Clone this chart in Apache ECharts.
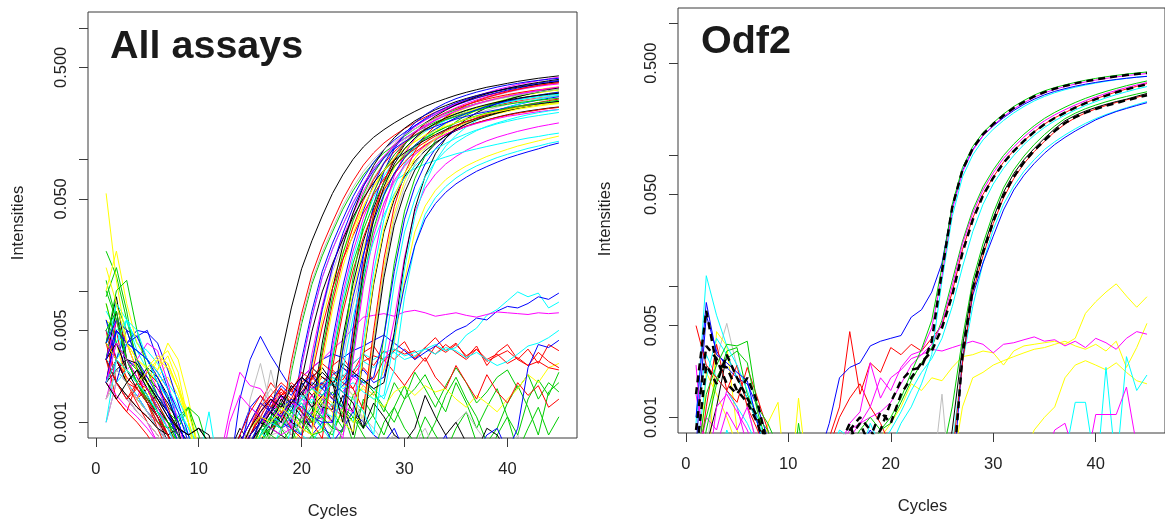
<!DOCTYPE html>
<html>
<head>
<meta charset="utf-8">
<script src="https://cdn.jsdelivr.net/npm/echarts@6.0.0/dist/echarts.min.js"></script>
<style>
  html, body { margin: 0; padding: 0; background: #ffffff; }
  #chart { width: 1165px; height: 519px; }
</style>
</head>
<body>
<div id="chart"></div>
<script>
// Amplification curves, intensities in thousandths (milli-units) per PCR cycle.
const cycles = [1,2,3,4,5,6,7,8,9,10,11,12,13,14,15,16,17,18,19,20,21,22,23,24,25,26,27,28,29,30,31,32,33,34,35,36,37,38,39,40,41,42,43,44,45];
const xTicks = [0, 10, 20, 30, 40];
const yTicks = [0.001, 0.005, 0.01, 0.05, 0.1, 0.5, 1];
const yLabels = [0.001, 0.005, 0.05, 0.5];
const MILLI = 0.001;

// R default palette
const rBlack = '#000000', rRed = '#FF0000', rGreen = '#00CD00', rBlue = '#0000FF',
      rCyan = '#00FFFF', rMagenta = '#FF00FF', rYellow = '#FFFF00', rGray = '#BEBEBE';

// ---- All assays: amplifying wells ----
const allA01 = [4,9,3,2.2,1.6,1.1,0.7,0.4,0.3,0.2, 0.2,0.3,0.3,0.4,0.5,0.7, 1.05,3.2,7.4,14.7,24,37,55,76,100,124,147,168,189,210,231,252,271,289,307,323,338,353,365,378,391,402,413,422,431];
const allA02 = [2,6,4,2.5,1.4,0.9,0.6,0.4,0.2,0.2, 0.2,0.2,0.3,0.5,0.6,0.8,0.9, 1,2.9,6.7,13.3,21.9,33.3,49.4,68.4,90.3,112,133,152,171,190,209,228,245,261,277,293,306,319,331,342,353,364,373,382];
const allA03 = [20,13,6,3,2,1.2,0.8,0.5,0.3,0.2, 0.2,0.3,0.4,0.6,0.9,1.1,0.7, 0.8,2.4,5.6,11.2,18.4,28,41.6,57.6,76,94.4,112,128,144,160,176,192,206,220,234,246,258,269,278,288,298,306,314,322];
const allA04 = [6,3,5,4.5,5,3,1.8,1,0.6,0.3, 0.3,0.4,0.5,0.8,1.3,1.6,1.2,0.9, 1,3,7,14,23,35,52,72,95,118,140,160,180,200,220,240,258,275,292,308,322,336,348,360,372,383,393];
const allA05 = [3,8,6,3.5,2.5,2,1.5,1.1,0.8,0.5, 1.2,0.4,0.3,0.5,0.7,0.9,0.6,0.5, 0.9,2.7,6.3,12.6,20.7,31.5,46.8,64.8,85.5,106,126,144,162,180,198,216,232,248,263,277,290,302,313,324,335,345,354];
const allA06 = [5,3,2,1.5,2.5,1.8,1.2,0.8,0.5,0.3, 0.2,0.5,1.2,2.4,1.9,1.8,1.4,1.6,0.9, 1.1,3.3,7.7,15.4,25.3,38.5,57.2,79.2,104.5,130,154,176,198,220,242,264,284,303,321,339,354,370,383,396,409,421];
const allA07 = [55,12,4,2.5,2,3,3.5,2.4,1,0.4, 0.3,0.3,0.4,0.5,0.6,0.8,0.7,0.6,0.7, 0.85,2.6,6,11.9,19.6,29.8,44.2,61.2,80.8,100,119,136,153,170,187,204,219,234,248,262,274,286,296,306,316,326];
const allA08 = [2,4,3,2,1.5,1,0.7,0.5,0.3,0.2, 0.2,0.2,0.3,0.4,1.5,2.8,1.3,0.9,0.8, 1,3,7,14,23,35,52,72,95,118,140,160,180,200,220,240,258,275,292,308,322,336,348,360,372,383];
const allA09 = [3,7,2.5,2,1.4,1.6,1.2,0.9,0.8,0.9, 0.7,0.3,0.3,0.5,0.7,0.9,1.2,1.4,1,0.9, 1.15,4,10.4,21.9,39.1,62.1,89.7,118,146,172,196,217,238,256,274,290,305,319,331,343,353,363,373,381,389];
const allA10 = [4,2,1.5,2,1.8,1.2,0.8,0.5,0.3,0.2, 0.2,0.2,0.3,0.6,0.9,1.4,2,1.6,1.8,1.2, 0.9,3.2,8.1,17.1,30.6,48.6,70.2,92.7,114,135,153,170,186,201,214,227,239,249,259,268,276,284,292,298,304];
const allA11 = [9,15,7,2.6,1.8,1.3,1,0.7,0.4,0.3, 0.2,0.3,0.3,0.4,0.5,0.8,0.9,1.1,0.8,1.0, 1,3.5,9,19,34,54,78,103,127,150,170,189,207,223,238,252,265,277,288,298,307,316,324,331,338];
const allA12 = [2,5,4,5,4.8,4,2.5,1.4,0.8,0.4, 0.3,0.2,0.3,0.6,1.3,1.1,0.9,1.3,1.5,1.2,0.9, 1.2,4.2,10.8,22.8,40.8,64.8,93.6,124,152,180,204,227,248,268,286,302,318,332,346,358,368,379,389,397];
const allA13 = [7,5,6,4,3.5,2.8,2,1.5,1,0.6, 0.4,0.3,0.3,0.4,0.6,0.7,0.6,0.9,1.1,0.8,0.7, 0.95,3.3,8.6,18,32.3,51.3,74.1,97.9,121,143,162,180,197,212,226,239,252,263,274,283,292,300,308,314];
const allA14 = [1.5,3,2.5,3,4,3.5,2,1,0.5,0.3, 0.2,0.2,0.3,0.5,0.9,1.2,1.5,1.1,0.8,1.0,1.2, 1.05,3.7,9.5,20,35.7,56.7,81.9,108,133,158,179,198,217,234,250,265,278,291,302,313,322,332,340,348];
const allA15 = [10,20,8,4,3,2.5,4,3,1.5,0.6, 0.4,0.3,0.3,0.5,0.7,0.8,1.0,1.3,1.2,0.9,0.8,0.9, 1.1,3.9,9.9,20.9,37.4,59.4,85.8,113,140,165,187,208,228,245,262,277,292,305,317,328,338,348,356];
const allA16 = [1,2,1.5,1.2,1,0.8,0.6,0.4,0.3,0.2, 0.2,0.2,0.3,0.4,0.6,1.0,2.5,1.2,0.8,1.0,1.4,1.1, 0.85,3,7.7,16.2,28.9,45.9,66.3,87.6,108,128,145,161,176,190,202,214,225,235,245,253,261,269,275];
const allA17 = [2,3,2.5,2,2.6,2.2,1.6,0.9,0.4,0.2, 0.2,0.3,0.5,0.8,0.6,1.1,0.9,1.5,1.2,2.0,1.6,1.3, 1.25,4.4,11.3,23.8,42.5,67.5,97.5,129,159,188,213,236,259,279,298,315,331,346,360,373,384,395,405];
const allA18 = [5,3,2,1.8,2.4,2,1.3,0.8,0.5,0.3, 0.2,0.2,0.3,0.5,0.8,1.0,1.4,1.8,1.5,2.2,1.9,1.6,1.3, 1.1,4.4,15.4,38.5,68.2,101,132,160,185,207,227,244,260,274,287,299,310,320,329,337,343,350];
const allA19 = [4,10,12,5,2.5,1.6,1.2,1,1.3,1.1, 0.6,0.3,0.3,0.4,0.6,0.8,1.0,0.9,1.2,1.4,1.0,1.1,0.9, 0.85,3.4,11.9,29.8,52.7,78.2,102,123,143,160,175,189,201,212,222,231,240,247,254,260,265,270];
const allA20 = [3,2,4,4.5,3,2,1.2,0.7,0.4,0.3, 0.2,0.2,0.3,0.4,0.7,0.9,1.2,1.6,1.3,1.9,2.3,1.8,1.5, 1.3,5.2,18.2,45.5,80.6,120,156,189,218,244,268,289,307,324,339,354,367,378,389,398,406,413];
const allA21 = [5,4,6,5,3,2,1.6,1.2,0.9,0.6, 0.4,0.3,0.3,0.4,0.6,0.9,1.1,1.4,1.2,1.6,1.3,1.1,1.4,1.2, 1,4,14,35,62,92,120,145,168,188,206,222,236,249,261,272,282,291,299,306,312];
const allA22 = [3,6,3,2,1.5,1.1,0.8,0.5,0.3,0.2, 0.2,0.2,0.4,0.7,1.0,1.2,1.5,1.3,1.1,1.6,1.9,1.5,1.2,1.3, 1.2,4.8,16.8,42,74.4,110,144,174,202,226,247,266,283,299,313,326,338,349,359,367,374];
const allA23 = [2,2.5,3,2.8,2,1.5,1.2,0.9,0.8,0.9, 0.8,0.4,0.3,0.5,0.8,1.1,1.0,1.4,1.9,1.6,2.2,2.6,2.0,1.4, 0.8,3.2,11.2,28,49.6,73.6,96,116,134,150,165,178,189,199,209,218,226,233,239,245,250];
const allA24 = [3,4,2,1.5,2,2.5,3.2,2,1,0.4, 0.3,0.2,0.3,0.4,0.6,0.8,1.0,1.2,1.5,1.3,1.1,1.6,1.4,1.2,1.0, 1.1,4.4,15.4,38.5,68.2,101,132,160,185,207,227,244,260,274,287,299,310,320,329,337];
const allA25 = [1.5,2,1.6,1.2,1,0.8,0.6,0.4,0.3,0.2, 0.2,0.2,0.3,0.4,0.9,1.3,1.8,1.4,1.2,1.0,0.9,1.3,1.7,2.0,1.6, 1,4,14,35,62,92,120,145,168,188,206,222,236,249,261,272,282,291,299,306];
const allA26 = [3,1.5,1.2,1,0.8,0.6,0.5,0.3,0.2,0.2, 0.2,0.3,0.4,0.6,0.9,1.3,1.6,2.0,1.7,2.4,2.1,2.8,2.4,2.0,1.8, 1.25,5,17.5,43.8,77.5,115,150,181,210,235,258,278,295,311,326,340,353,364,374,383];
const allA27 = [8,4,3,2,1.4,1,0.9,1.1,1.3,0.8, 0.4,0.2,0.3,0.4,0.5,0.7,0.9,1.1,1.5,1.2,1.0,1.4,1.7,1.3,1.1,0.9, 1.15,4.6,16.1,40.3,71.3,106,138,167,193,216,237,255,271,286,300,313,324,335,344];
const allA28 = [2,5,4,3.5,3,2.4,1.8,1.2,0.7,0.4, 0.3,0.2,0.3,0.5,0.7,1.0,1.4,1.9,1.6,2.2,1.8,2.0,1.6,1.9,2.3,2.0, 2.2,4.5,14,35,62,92,120,145,168,188,206,222,236,249,261,272,282,291,299];
const allA29 = [4,3,2,2.5,1.8,1.3,1,0.8,0.6,0.4, 0.3,0.2,0.3,0.4,0.6,0.9,1.2,1.6,1.4,1.8,2.6,2.2,1.9,2.8,2.4,2.1,1.8, 2.0,4.8,16.8,42,74.4,110,144,174,202,226,247,266,283,299,313,326,338,349];
const allA30 = [1,3,4,3.5,3,2.4,1.8,1.3,0.9,0.6, 0.4,0.3,0.3,0.4,0.6,0.8,1.1,1.0,1.3,1.6,1.4,1.9,2.2,1.8,2.0,1.7,1.5, 1.6,4.2,14.7,36.8,65.1,96.6,126,152,176,197,216,233,248,261,274,286,296,306];
const allA31 = [3,4,2.5,1.8,1.4,1.1,0.8,0.6,0.4,0.3, 0.2,0.3,0.4,0.6,0.8,1.0,0.9,0.8, 0.7,2.1,4.9,9.8,16.1,24.5,36.4,50.4,66.5,82.6,98,112,126,140,154,168,181,193,204,216,225,235,244,252,260,268,275];
const allA32 = [2,3,2.2,1.8,1.4,1.0,0.8,0.5,0.3,0.2, 0.2,0.3,0.5,0.8,1.2,1.6,1.3,1.1,1.5,1.2,1.0, 0.75,2.6,6.8,14.3,25.5,40.5,58.5,77.3,95.3,113,128,142,155,167,179,189,199,208,216,224,230,237,243,248];
const allA33 = [4,6,5,3,2.2,1.6,1.2,0.8,0.5,0.3, 0.2,0.3,0.4,0.7,1.0,1.4,1.2,1.0,0.9, 0.8,2.8,7.2,15.2,27.2,43.2,62.4,82.4,102,120,136,151,166,178,190,202,212,222,230,238,246,253,259,265,270,275];
const allA34 = [2,1.6,1.3,1.1,0.9,0.7,0.5,0.4,0.3,0.2, 0.2,0.2,0.3,0.5,0.7,0.9,1.2,1.1,1.4,1.3,1.6,1.2,1.0, 0.75,3,10.5,26.3,46.5,69,90,109,126,141,155,167,177,187,196,204,212,218,224,230,235,239];
const allA35 = [5,7,3,2,1.5,1.2,0.9,0.7,0.5,0.3, 0.2,0.2,0.3,0.4,0.6,0.9,1.1,1.4,1.2,1.0,1.3,1.1, 0.9,3.6,12.6,31.5,55.8,82.8,108,131,151,169,185,200,212,224,235,245,254,262,269,275,281,286,291];
const allA36 = [3,2,2.5,2,1.6,1.2,0.9,0.6,0.4,0.3, 0.2,0.2,0.3,0.4,0.6,0.8,1.0,0.9,1.2,1.4,1.1,0.9, 0.7,2.5,6.3,13.3,23.8,37.8,54.6,72.1,88.9,105,119,132,145,156,167,176,186,194,202,209,215,221,227];
const allA37 = [4,3,2.5,2,2.4,3,2.6,1.8,1,0.5, 0.3,0.2,0.3,0.4,0.6,0.8,1.0,1.3,1.1,1.5,1.8,1.4,1.2,1.0, 0.85,3.4,11.9,29.8,52.7,78.2,102,123,143,160,175,189,201,212,222,231,240,247,254,260,265];
const allA38 = [1.5,2.5,2,1.5,1.2,0.9,0.7,0.5,0.3,0.2, 0.2,0.2,0.3,0.4,0.5,0.7,0.8, 0.85,2.6,6,11.9,19.6,29.8,44.2,61.2,80.8,100,119,136,153,170,187,204,219,234,248,262,274,286,296,306,316,326,334,342];
const allA39 = [3,2,1.6,1.3,1.1,0.9,0.8,0.9,0.7,0.4, 0.3,0.2,0.3,0.5,0.7,0.9,1.2,1.0,1.4,1.7,1.3,1.6,2.0,1.7,1.4, 0.9,3.6,12.6,31.5,55.8,82.8,108,131,151,169,185,200,212,224,235,245,254,262,269,275];
const allA40 = [3,2,1.5,1.8,1.5,1.1,0.8,0.5,0.3,0.2, 0.2,0.2,0.3,0.5,0.8,1.1,1.5,1.2,0.9, 0.75,2.3,5.3,10.5,17.3,26.3,39,54,71.3,88.5,105,120,135,150,165,180,194,206,219,231,242,252,261,270,279,287];
const allA41 = [10,6,3,2,1.5,1.2,1,0.8,0.5,0.3, 0.2,0.2,0.3,0.4,0.6,0.8,1.1,0.9,1.2,1.0,0.8, 0.85,3,7.7,16.2,28.9,45.9,66.3,87.6,108,128,145,161,176,190,202,214,225,235,245,253,261,269,275,281];
const allA42 = [2,4,3,2.2,1.8,1.3,0.9,0.6,0.4,0.3, 0.2,0.4,1.0,1.6,1.3,1.1,0.9,0.8, 0.9,2.7,6.3,12.6,20.7,31.5,46.8,64.8,85.5,106,126,144,162,180,198,216,232,248,263,277,290,302,313,324,335,345,354];
const allA43 = [2,3,2.5,2,1.6,1.2,0.9,0.6,0.4,0.3, 0.2,0.2,0.3,0.4,0.6,0.8,1.0,1.3,1.1,1.5,1.8,1.6,2.0,1.7,1.5,1.2, 0.8,3.2,11.2,28,49.6,73.6,96,116,134,150,165,178,189,199,209,218,226,233,239];
const allA44 = [3,5,4,3.5,3,2.2,1.5,1,0.6,0.3, 0.2,0.2,0.3,0.5,0.8,1.0,1.3,1.1,1.5,1.3,1.1,1.0, 1,3.5,9,19,34,54,78,103,127,150,170,189,207,223,238,252,265,277,288,298,307,316,324];
const allA45 = [15,8,4,3,2.6,3.2,2.8,1.8,1,0.5, 0.3,0.3,0.4,0.6,0.9,1.1,1.0,1.3,1.1,0.9, 0.8,2.8,7.2,15.2,27.2,43.2,62.4,82.4,102,120,136,151,166,178,190,202,212,222,230,238,246,253,259,265,270];
const allA46 = [2,1.5,2,2.5,2,1.5,1.1,0.9,0.8,0.9, 0.7,0.3,0.4,0.6,0.9,1.2,1.5,1.3,1.8,2.2,1.9,2.4,2.0, 1,4,14,35,62,92,120,145,168,188,206,222,236,249,261,272,282,291,299,306,312,318];
// late, low-plateau wells
const allB1 = [2,3,2,1.6,1.2,1,0.7,0.5,0.3,0.2, 0.2,0.2,0.3,0.4,0.6,0.8,1.0,0.9,1.2,1.5,1.3,1.8,2.0,1.7,2.2,1.9, 1.6,2.5,6,18,40,60,77,92,105,117,128,138,147,155,163,170,177,183,189];
const allB2 = [3,2.5,2,1.6,1.2,0.9,0.7,0.5,0.3,0.2, 0.2,0.2,0.3,0.4,0.5,0.7,0.9,1.1,0.9,1.3,1.5,1.2,1.1, 1.4,3,14,40,57,68,77,85,92,98,104,110,115,120,125,130,135,140,145,149,154,158];
const allB3 = [6,5,4,3,2.5,2,2.2,1.6,1,0.5, 0.3,0.2,0.3,0.4,0.6,0.9,1.2,1.0,1.3,1.6,1.4,1.8,2.0,1.7,1.5,1.9,1.6, 2.5,4,12,28,44,58,70,80,89,97,105,112,119,126,132,138,144,150];
const allB4 = [4,5,3,2,1.5,1.2,1,0.7,0.5,0.3, 0.2,0.2,0.3,0.4,0.5,0.7,1.0,1.3,1.1,1.5,1.8,1.6,2.1,1.9,2.4,2.0,1.8, 1.5,2.5,9,22,38,51,62,72,81,89,96,103,109,115,121,126,132,137];
const allB5 = [3,4,3,2.6,2,1.5,1.1,0.8,0.5,0.3, 0.2,0.2,0.3,0.4,0.6,0.8,1.1,1.4,1.2,1.7,2.0,1.8,2.3,2.6,2.2,2.5,2.0, 2.2,4.5,11,22,35,46,56,65,73,81,88,95,102,108,114,120,127,133];
// non-amplifying wells
const allN01 = [1,2,1.5,1.2,1,0.7,0.5,0.3,0.2,0.2, 0.2,0.3,0.4,0.6,0.8,1.0,1.2,1.5,1.8,2.2, 2.6,3.0,3.6,4.2,5.2,6.3,6.5,6.7,6.4,6.9, 7.1,6.8,6.4,6.6,6.8,6.5,6.3,6.6,6.9,6.8, 6.7,6.6,6.8,6.7,6.8];
const allN02 = [2,3,2.5,2,1.5,1.1,0.8,0.5,0.3,0.2, 0.2,0.2,0.4,1.5,3,4.5,3.2,2.4,1.8,2.2, 2.6,3.0,3.3,3.1,3.5,3.8,4.2,4.6,4.0,3.5, 3.0,3.4,3.8,4.4,5.0,5.4,6.2,6.0,7.0,7.6, 7.4,8.0,9.0,8.6,9.6];
const allN03 = [5,3,6,4,3,2,1.5,1,0.6,0.3, 0.2,0.2,0.3,0.5,0.7,1.0,1.2,1.4,1.1,1.5, 1.8,2.0,2.4,2.2,2.8,3.3,3.0,3.4,3.6,3.2, 3.4,3.6,3.9,3.5,3.7,4.6,5.2,6.5,7.2,8.4, 9.8,9.0,9.6,7.4,8.2];
const allN04 = [3,5,2,1.5,1.8,1.4,1,0.6,0.4,0.2, 0.2,0.2,0.3,0.5,0.8,1.2,1.6,1.3,1.9,1.5, 1.8,2.2,2.0,2.6,2.3,2.9,3.2,3.0,3.6,3.3, 3.5,2.9,3.8,3.4,3.9,3.2,3.6,3.0,3.3,2.8, 3.1,2.7,3.4,2.9,2.6];
const allN05 = [2,1.5,1.2,2,1.6,1.1,0.8,0.5,0.3,0.2, 0.2,0.3,0.5,0.7,1.0,1.4,1.2,1.7,1.4,2.0, 2.4,1.9,2.7,3.1,2.4,3.4,3.8,2.9,3.5,4.1, 3.0,3.7,4.4,3.5,4.0,3.1,3.8,2.7,3.4,3.9, 3.0,3.6,2.8,3.9,3.5];
const allN06 = [1.5,2.5,2,1.4,1.0,0.8,0.6,0.4,0.3,0.2, 0.2,0.2,0.3,0.4,0.6,0.9,1.3,1.8,1.4,1.2, 1.6,2.0,1.5,2.3,1.8,2.6,2.1,3.0,2.4,1.9, 2.5,3.1,2.2,1.8,2.7,2.0,1.5,2.3,1.7,1.4, 2.0,1.6,1.9,1.3,1.5];
const allN07 = [12,6,3,2,1.5,1.2,1,0.9,1.3,0.6, 0.3,0.2,0.3,0.5,0.7,0.9,0.8,1.1,0.9,1.0, 1.2,0.9,0.8,1.3,1.0,1.4,1.7,1.2,2.0,1.5, 1.8,2.3,1.6,1.2,2.0,1.4,0.9,1.3,1.8,1.1, 0.8,1.5,2.1,1.6,2.4];
const allN08 = [3,8,5,3,2,1.4,1,0.7,0.5,0.3, 0.2,0.2,0.3,0.4,0.6,0.8,1.0,0.9,0.7,1.1, 0.8,0.6,0.9,1.2,0.7,1.5,1.1,0.8,1.3,1.9, 1.2,0.7,1.0,1.6,2.2,1.5,1.1,0.7,0.9,1.4, 1.9,1.3,0.8,1.7,2.0];
const allN09 = [6,4,3,2.5,2,1.6,1.3,1.1,0.8,0.5, 0.3,0.2,0.3,0.5,0.7,0.6,0.9,1.2,1.0,0.8, 1.1,1.5,1.2,0.9,1.6,2.1,1.7,1.3,1.0,1.5, 2.4,1.8,1.3,1.9,2.6,2.0,1.4,1.7,2.2,2.5, 1.8,2.3,1.5,2.0,1.7];
const allN10 = [2,3,2,1.5,1.2,1,0.8,0.6,0.4,0.3, 0.2,0.2,0.3,0.4,0.5,0.6,0.8,0.7,0.9,0.6, 0.8,0.7,0.5,0.9,1.1,0.8,0.6,1.0,1.3,0.9, 0.7,1.1,0.8,0.6,0.9,1.2,0.7,0.5,0.8,1.1, 0.6,0.9,1.3,0.8,1.1];
const allN11 = [5,3,2,2.5,2.2,1.8,1.4,1,0.6,0.3, 0.2,0.3,0.6,0.9,0.7,1.0,0.8,1.2,1.4,1.1, 0.9,1.3,1.0,1.6,1.2,0.9,1.4,1.1,0.8,0.7, 0.9,1.6,1.1,0.8,1.0,0.7,0.6,0.9,0.8,0.6, 0.7,0.5,0.6,0.5,0.4];
const allN12 = [4,3,2,1.6,1.2,0.9,0.7,0.5,0.3,0.2, 0.2,0.2,0.3,0.4,0.6,0.8,1.0,0.9,1.1,0.9, 0.8,1.0,0.7,0.9,1.2,1.0,0.8,0.7,0.9,0.6, 0.5,0.7,0.6,0.8,0.5,0.4,0.6,0.8,0.9,0.6, 0.9,2.6,3.9,3.7,4.2];
const allN13 = [8,4,3,2,1.6,2.2,2.8,1.8,1.2,0.6, 0.3,0.2,0.3,0.4,0.6,0.9,1.1,1.4,1.2,1.6, 1.8,1.5,2.2,1.9,1.6,1.8,1.5,1.3,1.7,1.9, 1.6,1.9,1.7,1.8,1.5,1.3,1.6,1.4,1.2,1.5, 1.8,2.3,2.0,2.6,2.8];
const allN14 = [3,2,1.5,1.2,1,0.8,0.6,0.4,0.3,0.2, 0.2,0.2,0.3,0.4,0.5,0.7,0.9,1.0,1.2,0.9, 1.1,1.4,1.0,0.8,1.3,1.1,0.9,0.7,0.8,0.6, 0.7,0.9,0.6,0.8,1.0,1.2,0.9,0.7,0.5,0.6, 0.8,0.6,0.5,0.7,0.6];
const allN15 = [2,4,3,2,1.5,1.1,0.8,0.6,0.4,0.3, 0.2,0.2,0.3,0.4,0.6,0.8,1.0,1.3,1.1,1.5, 1.4,1.8,2.2,2.0,2.5,2.9,2.6,3.1,3.4,3.0, 3.2,3.6,3.3,3.7,3.5,3.1,3.4,3.0,2.7,2.9, 3.3,3.8,4.0,4.4,5.0];
const allN16 = [5,2,1.6,1.3,1.1,0.9,0.7,0.5,0.3,0.2, 0.2,0.2,0.3,0.5,0.7,1.0,1.3,1.6,2.0,1.7, 2.2,1.8,2.5,2.1,2.8,3.3,2.7,3.5,3.0,3.6, 3.1,3.7,3.3,3.9,3.4,3.0,3.6,2.9,3.2,3.5, 3.0,2.7,2.9,2.6,2.5];

// ---- Odf2 wells ----
const odfA01 = [0.4,1.5,2.5,3.6,3.5,3.8,1.2,0.9,0.6,0.3, 0.5,0.3,0.3,0.4,0.5,0.6,0.7,0.6,0.8,1.0, 1.4,2.2,3.3,5.5, 14,42,80,116,148,176,205,234,260,286,308,326,342,357,371,383,394,404,413,421,429];
const odfA02 = [2.5,0.3,1.2,1.5,1.1,0.8,0.5,0.3,0.2,0.2, 0.2,0.2,0.3,0.4,0.5,0.7,0.9,1.2,2.0,1.6, 2.4,3.0,3.2,4.8, 12,38,74,108,140,168,196,224,250,275,297,316,332,347,360,372,383,393,402,410,417];
const odfA03 = [1.5,6.5,2.5,2.4,1.6,1.3,0.9,0.5,0.3,0.2, 0.2,0.2,0.3,0.4,0.5,0.7,0.9,0.6,0.8,1.3, 1.9,2.3,2.4,3.8, 13,40,77,112,144,172,200,228,254,279,301,320,336,351,364,376,387,397,406,414,421];
const odfA04 = [1.0,7.5,3.0,2.6,2.2,1.9,0.9,0.4,0.2,0.2, 0.2,0.3,0.5,0.9,2.0,2.4,2.6,3.5,3.8,4.0, 4.2,5.8,6.6,9.0, 15,40,76,110,140,166,192,218,243,266,287,305,320,334,346,357,367,376,384,391,397];
const odfA05 = [0.9,12,6,3.5,2.5,1.6,1.0,0.6,0.3,0.2, 0.2,0.2,0.3,0.4,0.3,0.5,0.6,0.5,0.4,0.6, 0.9,1.2,1.8,3.0, 11,34,68,100,130,157,183,209,234,258,279,298,314,328,341,353,364,374,383,391,398];
const odfA06 = [5,2.5,2.0,1.6,2.5,1.2,0.8,0.5,0.3,0.2, 0.2,0.2,0.3,0.7,1.2,4.5,1.5,2.6,2.2,3.4, 3.0,3.6,3.2,4.0, 5,9,19,33,50,68,88,108,128,150,172,192,210,230,250,268,285,302,318,333,350];
const odfA07 = [0.3,0.8,1.8,3.2,3.4,1.5,1.0,0.8,0.4,0.2, 0.9,0.3,0.2,0.3,0.4,0.6,0.8,1.0,0.8,0.9, 1.3,1.9,2.6,3.4, 5.5,11,22,38,57,77,99,121,144,167,190,211,231,251,270,288,305,321,337,352,366];
const odfA08 = [0.8,3.5,2.8,1.8,1.5,2.0,1.3,0.6,0.3,0.2, 0.2,0.2,0.3,0.4,0.6,0.9,0.5,0.7,1.1,0.9, 1.5,2.0,2.6,3.2, 4.8,8.5,18,32,49,67,87,107,128,150,171,191,210,229,248,266,283,300,316,331,346];
const odfA09 = [0.5,2,4,3,2,1.4,0.9,0.5,0.3,0.2, 0.2,0.2,0.3,0.5,0.8,0.7,0.5,0.9,0.6,0.8, 1.1,1.6,2.2,2.8, 4.0,7,14,26,42,60,79,99,120,141,162,182,201,220,238,255,272,288,303,318,332];
const odfA10 = [1.5,0.5,0.6,1.1,0.8,1.2,0.6,0.3,0.2,0.2, 0.2,0.2,0.3,0.4,0.6,0.9,1.1,2.6,1.4,2.0, 2.3,2.8,3.0,3.6, 5.2,10,21,36,54,73,94,115,137,160,182,202,221,240,259,277,294,310,326,341,356];
const odfA11 = [0.3,0.6,1.2,3.0,2.0,1.4,0.9,0.5,0.3,0.2, 0.2,0.2,0.3,0.4,0.5,0.6,0.7,0.6,0.5,0.7, 0.6,0.5,0.4,0.3, 0.3,0.8,3.5,10,19,33,52,72,92,112,134,158,182,200,216,230,243,255,266,280,294];
const odfA12 = [0.5,2.5,1.8,3.0,2.0,1.4,1.0,0.6,0.3,0.2, 0.2,0.2,0.3,0.4,0.6,0.8,1.0,0.8,0.6,0.5, 0.4,0.3,0.3,0.2, 0.2,0.3,3.0,9.5,18,31,49,68,88,108,129,152,175,194,210,224,237,249,261,273,285];
const odfA13 = [0.6,6,3.2,2.4,2.0,1.8,1.2,0.7,0.4,0.2, 0.2,0.2,0.3,0.3,0.4,0.5,0.6,0.8,0.6,0.5, 0.4,0.3,0.2,0.2, 0.2,0.3,2.8,8.5,15,24,38,54,70,86,103,120,136,152,168,185,200,214,226,238,250];
const odfA14 = [0.3,1.2,3.6,1.6,1.3,2.4,1.4,0.8,0.4,0.2, 0.2,0.2,0.3,0.6,1.0,1.4,1.8,1.2,0.9,0.6, 0.5,0.4,0.3,0.3, 0.3,0.5,2.6,9,17,30,47,66,86,106,127,150,172,192,209,224,238,251,263,275,287];
const odfA15 = [1,3,2,1.6,1.2,0.9,0.6,0.4,0.2,0.2, 0.2,0.2,0.3,0.4,0.5,0.4,0.3,0.4,0.5,0.4, 0.3,0.2,0.2,0.2, 0.3,0.6,2.6,7,15,27,42,58,75,92,110,126,142,158,174,189,203,216,229,242,255];
const odfA16 = [0.5,1,2,2.8,3.2,2.6,1.1,0.6,0.3,0.2, 0.3,0.5,0.4,0.3,0.4,0.5,0.6,0.5,0.4,0.6, 0.5,0.4,0.3,0.3, 0.5,1.2,4,11,21,36,56,77,98,120,143,166,189,208,225,240,254,267,279,291,303];
const odfN1 = [0.4,1.0,0.8,1.6,1.2,0.6,0.3,0.2,0.2,0.2, 0.2,0.2,0.3,0.4,0.6,0.8,0.9,1.0,1.1,1.3, 1.8,2.5,3.0,3.3,3.2,3.4,3.6,3.8,3.6,3.1, 3.6,3.7,3.9,4.1,3.8,3.9,3.5,3.8,3.4,4.0, 3.7,3.3,4.0,4.5,4.3];
const odfN2 = [0.3,0.2,4.5,3.5,0.8,0.5,0.3,0.9,1.3,0.2, 1.4,0.3,0.2,0.2,0.3,0.4,0.5,0.6,0.7,0.9, 1.2,1.8,1.6,2.0,1.9,2.4,2.9,3.0,3.2,3.1, 2.5,3.2,3.5,3.6,3.7,3.8,3.6,4.0,6.2,7.6, 9.0,10.4,8.4,6.9,8.3];
const odfN3 = [0.2,2.2,1.5,1.0,0.6,0.4,0.3,0.2,0.2,0.2, 0.2,0.2,0.2,0.2,0.2,0.2,0.2,0.2,0.2,0.2, 0.2,0.2,0.2,0.2,0.2,0.2,0.2,0.2,0.2,0.2, 0.2,0.2,0.5,0.8,1.0,1.2,2.0,2.5,2.7,2.5, 2.3,2.6,2.2,1.9,1.8];
const odfN4 = [0.2,0.3,0.2,0.2,0.2,0.2,0.2,0.2,0.2,0.2, 0.2,0.2,0.2,0.2,0.2,0.2,0.2,0.2,0.2,0.2, 0.2,0.2,0.2,0.2,0.2,0.4,1.2,2.0,2.2,2.5, 2.7,2.9,3.1,3.3,3.4,3.6,3.8,3.5,3.3,3.6, 3.2,3.8,2.4,3.4,5.2];
const odfN5 = [0.2,0.2,0.4,0.8,0.5,0.3,0.2,0.2,0.2,0.2, 0.2,0.2,0.2,0.2,0.2,0.2,0.2,0.2,0.2,0.2, 0.2,0.2,0.2,0.2,0.2,0.2,0.2,0.2,0.2,0.2, 0.2,0.2,0.2,0.2,0.2,0.2,0.5,1.3,1.3,0.4, 0.3,0.2,0.2,0.2,0.2];
const odfN6 = [0.2,0.3,0.6,0.4,0.2,0.2,0.2,0.2,0.2,0.2, 0.2,0.2,0.2,0.2,0.2,0.2,0.2,0.2,0.2,0.2, 0.2,0.2,0.2,0.2,0.2,0.2,0.2,0.2,0.2,0.2, 0.2,0.2,0.2,0.2,0.2,0.2,0.2,0.2,0.2,0.3, 2.4,0.4,2.9,1.6,2.1];
const odfN7 = [0.3,0.2,0.2,0.2,0.2,0.2,0.2,0.2,0.2,0.2, 0.2,0.2,0.2,0.2,0.2,0.2,0.2,0.2,0.2,0.2, 0.2,0.2,0.2,0.2,0.2,0.2,0.2,0.2,0.2,0.2, 0.2,0.2,0.2,0.2,0.5,0.8,0.9,0.5,0.4,1.05, 1.05,1.05,1.7,0.6,0.4];
const odfN8 = [0.3,0.5,2.8,5.2,2.4,1.2,0.6,0.3,0.2,0.2, 0.2,0.2,0.2,0.2,0.2,0.2,0.2,0.2,0.2,0.2, 0.2,0.2,0.2,0.3,1.5,0.2,0.2,0.2,0.2,0.2, 0.2,0.2,0.2,0.2,0.2,0.2,0.2,0.2,0.2,0.2, 0.2,0.2,0.2,0.2,0.2];

// [values, colour, dashed]
const allWells = [
  [allN07, rGreen], [allN08, rGreen], [allN09, rGreen], [allN10, rGreen], [allN14, rGray],
  [allN11, rBlack], [allN13, rYellow], [allN06, rRed], [allN04, rRed], [allN05, rRed], [allN16, rRed],
  [allN15, rCyan], [allN12, rBlue], [allN03, rCyan], [allN02, rBlue], [allN01, rMagenta],
  [allB1, rMagenta], [allB2, rCyan], [allB3, rYellow], [allB4, rCyan], [allB5, rBlue],
  [allA01, rBlack], [allA02, rRed], [allA03, rGreen], [allA04, rBlue], [allA05, rCyan],
  [allA06, rMagenta], [allA07, rYellow], [allA08, rGray], [allA09, rBlack], [allA10, rRed],
  [allA11, rGreen], [allA12, rBlue], [allA13, rCyan], [allA14, rMagenta], [allA15, rYellow],
  [allA16, rGray], [allA17, rBlack], [allA18, rRed], [allA19, rGreen], [allA20, rBlue],
  [allA21, rCyan], [allA22, rMagenta], [allA23, rBlack], [allA24, rYellow], [allA25, rGray],
  [allA26, rRed], [allA27, rGreen], [allA28, rBlue], [allA29, rBlack], [allA30, rCyan],
  [allA31, rBlack], [allA32, rRed], [allA33, rBlue], [allA34, rMagenta], [allA35, rGreen],
  [allA36, rCyan], [allA37, rYellow], [allA38, rGray], [allA39, rBlack], [allA40, rRed],
  [allA41, rGreen], [allA42, rMagenta], [allA43, rCyan], [allA44, rBlue], [allA45, rYellow],
  [allA46, rBlack]
];
const odfWells = [
  [odfN8, rGray], [odfN3, rYellow], [odfN4, rYellow], [odfN2, rYellow], [odfN5, rCyan], [odfN6, rCyan],
  [odfN7, rMagenta], [odfN1, rMagenta],
  [odfA15, rCyan], [odfA13, rBlue], [odfA14, rRed], [odfA16, rGreen], [odfA11, rBlack],
  [odfA09, rCyan], [odfA06, rRed], [odfA07, rGreen], [odfA10, rMagenta],
  [odfA05, rCyan], [odfA04, rBlue], [odfA02, rMagenta], [odfA01, rGreen],
  [odfA12, rBlack, true], [odfA08, rBlack, true], [odfA03, rBlack, true]
];

const FONT = '"Liberation Sans", Arial, Helvetica, sans-serif';
const AXIS_COL = '#3a3a3a';
const TEXT_COL = '#222';

function panelSeries(wells, idx) {
  return wells.map(([vals, color, dashed]) => ({
    type: 'line',
    xAxisIndex: idx,
    yAxisIndex: idx,
    data: vals.map((v, i) => [cycles[i], v * MILLI]),
    symbol: 'none',
    showSymbol: false,
    clip: true,
    silent: true,
    animation: false,
    lineStyle: dashed
      ? { color, width: 2.5, type: [7, 5] }
      : { color, width: 1 }
  }));
}

function xAxisFor(idx) {
  return {
    type: 'value', gridIndex: idx, min: -0.76, max: 46.76,
    axisLine: { show: false, onZero: false },
    splitLine: { show: false },
    axisTick: { show: true, length: 9, lineStyle: { color: AXIS_COL, width: 1 }, customValues: xTicks },
    axisLabel: { customValues: xTicks, fontSize: 16.5, fontFamily: FONT, color: TEXT_COL, margin: 23 }
  };
}

function yAxisFor(idx) {
  return {
    type: 'log', logBase: 10, gridIndex: idx, min: 0.000759, max: 1.318,
    axisLine: { show: false, onZero: false },
    splitLine: { show: false },
    minorTick: { show: false },
    axisTick: { show: true, length: 9, lineStyle: { color: AXIS_COL, width: 1 }, customValues: yTicks },
    axisLabel: {
      customValues: yLabels, rotate: 90, fontSize: 16.5, fontFamily: FONT, color: TEXT_COL, margin: 18,
      formatter: v => Number(v).toFixed(3)
    }
  };
}

const chart = echarts.init(document.getElementById('chart'), null, { renderer: 'canvas' });
chart.setOption({
  backgroundColor: '#ffffff',
  animation: false,
  grid: [
    { left: 88, top: 12, width: 489, height: 426, show: true, borderColor: AXIS_COL, borderWidth: 1, backgroundColor: 'transparent' },
    { left: 678, top: 8, width: 489, height: 425, show: true, borderColor: AXIS_COL, borderWidth: 1, backgroundColor: 'transparent' }
  ],
  xAxis: [xAxisFor(0), xAxisFor(1)],
  yAxis: [yAxisFor(0), yAxisFor(1)],
  series: panelSeries(allWells, 0).concat(panelSeries(odfWells, 1)),
  graphic: [
    { type: 'text', left: 110, top: 27, silent: true,
      style: { text: 'All assays', font: 'bold 39.5px ' + FONT, fill: '#1a1a1a' } },
    { type: 'text', left: 701, top: 22, silent: true,
      style: { text: 'Odf2', font: 'bold 39.5px ' + FONT, fill: '#1a1a1a' } },
    { type: 'text', x: 332.5, y: 511, silent: true,
      style: { text: 'Cycles', font: '16.5px ' + FONT, fill: TEXT_COL, align: 'center', verticalAlign: 'middle' } },
    { type: 'text', x: 922.5, y: 506, silent: true,
      style: { text: 'Cycles', font: '16.5px ' + FONT, fill: TEXT_COL, align: 'center', verticalAlign: 'middle' } },
    { type: 'text', x: 18.5, y: 223, rotation: Math.PI / 2, silent: true,
      style: { text: 'Intensities', font: '16.5px ' + FONT, fill: TEXT_COL, align: 'center', verticalAlign: 'middle' } },
    { type: 'text', x: 605.5, y: 219, rotation: Math.PI / 2, silent: true,
      style: { text: 'Intensities', font: '16.5px ' + FONT, fill: TEXT_COL, align: 'center', verticalAlign: 'middle' } }
  ]
});
</script>
</body>
</html>
